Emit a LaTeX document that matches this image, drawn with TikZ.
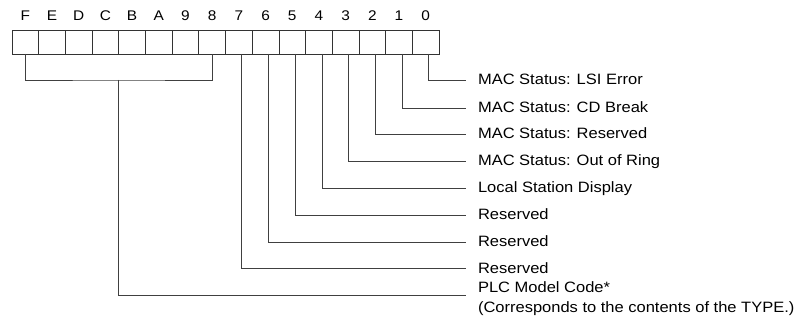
\documentclass[tikz,border=0pt]{standalone}
\usepackage{fontspec}
\setmainfont[FakeStretch=1.1]{Liberation Sans}
\begin{document}
\begin{tikzpicture}[x=1pt,y=-1pt,
  cell/.style={draw=black!80, line width=0.8pt, minimum width=26.69pt, minimum height=24pt, inner sep=0pt, outer sep=0pt},
  bitlbl/.style={font=\fontsize{14}{16}\selectfont, inner sep=0pt, anchor=base},
  desc/.style={font=\fontsize{15}{18}\selectfont, anchor=west, inner xsep=12pt, inner ysep=0pt, text height=10pt, text depth=0pt, outer sep=0pt},
  conn/.style={draw=black!75, line width=0.8pt}]
\useasboundingbox (0,0) rectangle (800,320);
\foreach \i/\l in {15/F,14/E,13/D,12/C,11/B,10/A,9/9,8/8,7/7,6/6,5/5,4/4,3/3,2/2,1/1,0/0} {
  \node[cell] (c\i) at ({12+(15-\i+0.5)*26.69},42) {};
  \node[bitlbl] (l\i) at ({12+(15-\i+0.5)*26.69},20.5) {\l};
}
\node[desc] (t0) at (466,80) {MAC Status: LSI Error};
\node[desc] (t1) at (466,108) {MAC Status: CD Break};
\node[desc] (t2) at (466,134) {MAC Status: Reserved};
\node[desc] (t3) at (466,161) {MAC Status: Out of Ring};
\node[desc] (t4) at (466,188) {Local Station Display};
\node[desc] (t5) at (466,215) {Reserved};
\node[desc] (t6) at (466,242) {Reserved};
\node[desc] (t7) at (466,268.7) {Reserved};
\node[desc] (t8) at (466,287.3) {PLC Model Code*};
\node[desc] (t8b) at (466,307.3) {(Corresponds to the contents of the TYPE.)};
\foreach \i in {0,...,7} {
  \draw[conn] ([xshift=3pt]c\i.south) |- (t\i.west);
}
\coordinate (bm) at (118.8,80);
\draw[conn] (c15.south) |- (bm) -| (c8.south);
\draw[conn] (bm) |- ([yshift=-7.7pt]t8.west);
\end{tikzpicture}
\end{document}
